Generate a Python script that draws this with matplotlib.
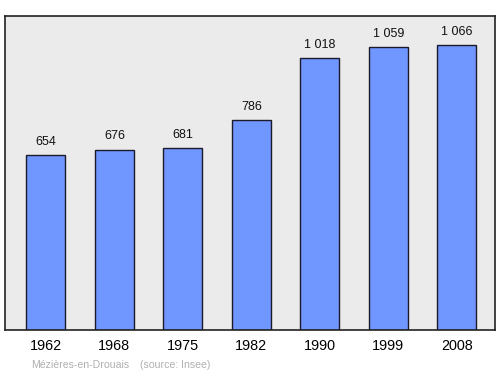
import matplotlib
matplotlib.use("Agg")
import matplotlib.pyplot as plt

years = ["1962", "1968", "1975", "1982", "1990", "1999", "2008"]
population = [654, 676, 681, 786, 1018, 1059, 1066]
value_labels = ["654", "676", "681", "786", "1 018", "1 059", "1 066"]

fig = plt.figure(figsize=(5, 3.74), dpi=100)
ax = fig.add_axes([5/500, 1 - 330/374, 490/500, 314/374])
ax.set_facecolor("#ebebeb")
x = list(range(len(years)))
ax.bar(x, population, width=0.57, color="#7096ff", edgecolor="#1a1a2a", linewidth=1.0, zorder=2)
for xi, v, lab in zip(x, population, value_labels):
    ax.text(xi, v + 50, lab, ha="center", va="center", fontsize=9, family="Liberation Sans", color="#111")
ax.set_xlim(-0.597, 6.556)
ax.set_ylim(0, 1176)
ax.set_yticks([])
ax.set_xticks(x)
ax.set_xticklabels(years, fontsize=10.4, family="Liberation Sans")
ax.tick_params(axis="x", length=0, pad=6.5)
for s in ax.spines.values():
    s.set_color("#222")
    s.set_linewidth(1.2)
fig.text(31/500, 1 - 365/374, "Mézières-en-Drouais", fontsize=7.6,
         family="Liberation Sans", color="#b0b0b0", va="center", ha="left")
fig.text(140/500, 1 - 365/374, "(source: Insee)", fontsize=7.6,
         family="Liberation Sans", color="#b0b0b0", va="center", ha="left")
fig.savefig("out.png", dpi=100)
